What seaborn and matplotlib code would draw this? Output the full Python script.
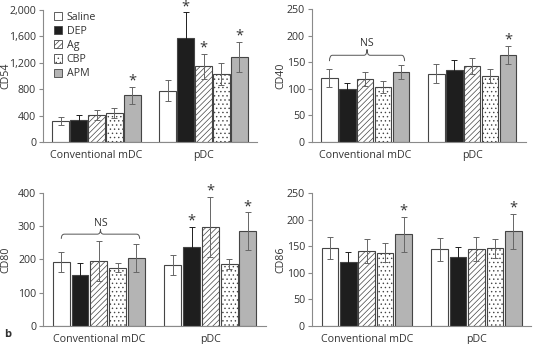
import numpy as np
import pandas as pd
import matplotlib
matplotlib.use("Agg")
import matplotlib.pyplot as plt
import seaborn as sns
from matplotlib.path import Path
from matplotlib.patches import PathPatch, Patch

sns.set_style("white")
plt.rcParams['font.family'] = ['Open Sans', 'DejaVu Sans']
plt.rcParams['hatch.color'] = '#555555'
plt.rcParams['hatch.linewidth'] = 0.5

cells = ["Conventional mDC", "pDC"]
treatments = ["Saline", "DEP", "Ag", "CBP", "APM"]

# means per treatment: [mDC, pDC]
cd54 = {"Saline": [320, 780], "DEP": [330, 1570], "Ag": [410, 1150], "CBP": [440, 1030], "APM": [710, 1290]}
cd54_err = {"Saline": [65, 160], "DEP": [80, 400], "Ag": [75, 190], "CBP": [80, 170], "APM": [130, 230]}
cd40 = {"Saline": [121, 128], "DEP": [99, 136], "Ag": [119, 142], "CBP": [103, 124], "APM": [132, 164]}
cd40_err = {"Saline": [17, 18], "DEP": [12, 18], "Ag": [13, 15], "CBP": [11, 14], "APM": [13, 17]}
cd80 = {"Saline": [192, 184], "DEP": [152, 238], "Ag": [196, 298], "CBP": [175, 186], "APM": [205, 285]}
cd80_err = {"Saline": [30, 30], "DEP": [38, 60], "Ag": [60, 90], "CBP": [13, 14], "APM": [42, 57]}
cd86 = {"Saline": [147, 144], "DEP": [121, 129], "Ag": [141, 145], "CBP": [138, 146], "APM": [172, 178]}
cd86_err = {"Saline": [21, 21], "DEP": [18, 19], "Ag": [23, 23], "CBP": [17, 18], "APM": [33, 33]}

# significance stars (cell index, treatment)
cd54_sig = [(0, "APM"), (1, "DEP"), (1, "Ag"), (1, "APM")]
cd40_sig = [(1, "APM")]
cd80_sig = [(1, "DEP"), (1, "Ag"), (1, "APM")]
cd86_sig = [(0, "APM"), (1, "APM")]

faces = {"Saline": "white", "DEP": "#1e1e1e", "Ag": "white", "CBP": "white", "APM": "#b4b4b4"}
hatches = {"Saline": "", "DEP": "", "Ag": "//////", "CBP": "....", "APM": ""}
edge = "#454545"
axcol = "#8a8a8a"
txtcol = "#333333"
fs = 7.7

fig = plt.figure(figsize=(5.35, 3.44), dpi=100)
positions = [[0.0804, 0.587, 0.400, 0.384],
             [0.583, 0.587, 0.400, 0.387],
             [0.0804, 0.0523, 0.417, 0.387],
             [0.583, 0.0523, 0.410, 0.387]]


def brace(ax, x0, x1, y, h):
    xm = (x0 + x1) / 2
    r = (x1 - x0) * 0.04
    ym = y + h * 0.5
    verts = [(x0, y), (x0, ym), (x0 + r, ym),
             (xm - r, ym), (xm, ym), (xm, y + h),
             (xm, ym), (xm + r, ym),
             (x1 - r, ym), (x1, ym), (x1, y)]
    codes = [Path.MOVETO, Path.CURVE3, Path.CURVE3,
             Path.LINETO, Path.CURVE3, Path.CURVE3,
             Path.CURVE3, Path.CURVE3,
             Path.LINETO, Path.CURVE3, Path.CURVE3]
    ax.add_patch(PathPatch(Path(verts, codes), fill=False, ec="#555555", lw=0.7))


def panel(pos, means, errs, ylab, ymax, step, sig, labx, fmt=None, ns=None, legend=False):
    ax = fig.add_axes(pos)
    rows = []
    for t in treatments:
        for i, c in enumerate(cells):
            rows.append({"cell": c, "treatment": t, "value": means[t][i], "err": errs[t][i]})
    df = pd.DataFrame(rows)
    sns.barplot(data=df, x="cell", y="value", hue="treatment", order=cells, hue_order=treatments,
                width=0.84, gap=0.1, ax=ax, legend=False, errorbar=None)
    bars = ax.patches
    tops = {}
    k = 0
    for t in treatments:
        for i, c in enumerate(cells):
            b = bars[k]
            k += 1
            b.set_facecolor(faces[t])
            b.set_edgecolor(edge)
            b.set_linewidth(0.8)
            b.set_hatch(hatches[t])
            xc = b.get_x() + b.get_width() / 2
            m = means[t][i]
            e = errs[t][i]
            col = "#1e1e1e" if t == "DEP" else "#666666"
            ax.errorbar(xc, m, yerr=e, fmt="none", ecolor=col, elinewidth=0.7, capsize=2, capthick=0.7, zorder=3)
            tops[(i, t)] = (xc, m + e, b)
    for (i, t) in sig:
        xc, top, b = tops[(i, t)]
        ax.annotate("*", (xc, top), xytext=(0, -1.5), textcoords="offset points", ha="center", va="bottom",
                    fontsize=10.5, color=txtcol, annotation_clip=False)
    if ns is not None:
        x0 = tops[(0, "Saline")][0]
        x1 = tops[(0, "APM")][0] + 0.03
        brace(ax, x0, x1, ns[0], ns[1])
        ax.text((x0 + x1) / 2, ns[0] + ns[1] * 1.05, "NS", ha="center", va="bottom", fontsize=fs, color=txtcol)
    ax.set_xlim(-0.5, 1.5)
    ax.set_ylim(0, ymax)
    ax.set_yticks(np.arange(0, ymax + 1, step))
    if fmt:
        ax.set_yticklabels([fmt(v) for v in np.arange(0, ymax + 1, step)])
    ax.set_xticks([0, 1])
    ax.set_xticks([-0.5, 0.5, 1.5], minor=True)
    ax.tick_params(axis="x", which="major", length=0, labelsize=fs, labelcolor=txtcol, pad=6)
    ax.tick_params(axis="x", which="minor", length=3, width=0.8, color=axcol, direction="out")
    ax.tick_params(axis="y", length=3, width=0.8, color=axcol, labelsize=fs, labelcolor=txtcol, pad=2, left=True)
    ax.set_xlabel("")
    ax.set_ylabel(ylab, fontsize=fs, color=txtcol)
    ax.yaxis.set_label_coords(labx, 0.5)
    for s in ["top", "right"]:
        ax.spines[s].set_visible(False)
    for s in ["left", "bottom"]:
        ax.spines[s].set_color(axcol)
        ax.spines[s].set_linewidth(0.8)
    if legend:
        handles = [Patch(facecolor=faces[t], edgecolor=edge, hatch=hatches[t], linewidth=0.6, label=t) for t in treatments]
        leg = ax.legend(handles=handles, loc="upper left", bbox_to_anchor=(0.03, 1.02), frameon=False,
                        fontsize=fs, handlelength=0.8, handleheight=0.8, handletextpad=0.4,
                        labelspacing=0.3, borderaxespad=0)
        for tx in leg.get_texts():
            tx.set_color(txtcol)
    return ax


panel(positions[0], cd54, cd54_err, "CD54", 2000, 400, cd54_sig, -0.15, fmt=lambda v: f"{int(v):,}", legend=True)
panel(positions[1], cd40, cd40_err, "CD40", 250, 50, cd40_sig, -0.117, ns=(152, 22))
panel(positions[2], cd80, cd80_err, "CD80", 400, 100, cd80_sig, -0.143, ns=(262, 28))
panel(positions[3], cd86, cd86_err, "CD86", 250, 50, cd86_sig, -0.117)

fig.text(0.008, 0.02, "b", fontsize=8, fontweight="bold", color=txtcol)

fig.savefig("out.png", dpi=100)
